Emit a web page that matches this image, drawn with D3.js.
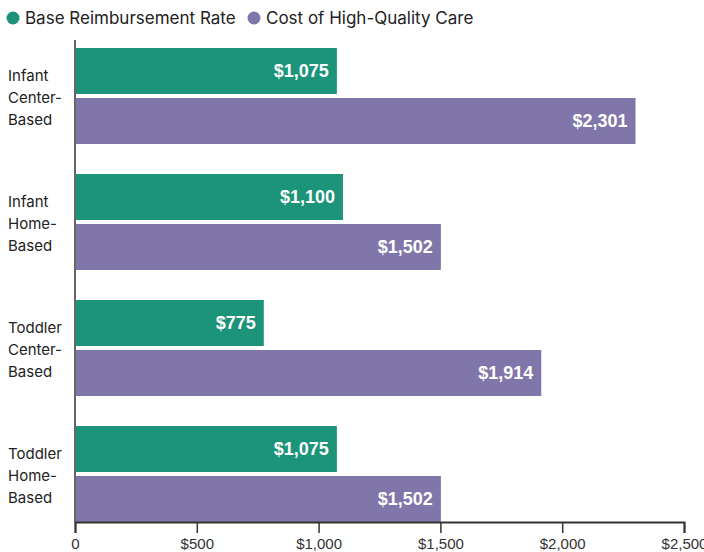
<!DOCTYPE html>
<html>
<head>
<meta charset="utf-8">
<script src="https://cdn.jsdelivr.net/npm/d3@7"></script>
<style>
  body { margin: 0; background: #fff; }
  svg { display: block; }
</style>
</head>
<body>
<div id="container"></div>
<script>
// chart data
const categories = [
  ["Infant", "Center-", "Based"],
  ["Infant", "Home-", "Based"],
  ["Toddler", "Center-", "Based"],
  ["Toddler", "Home-", "Based"]
];
const seriesNames = ["Base Reimbursement Rate", "Cost of High-Quality Care"];
const baseRate = [1075, 1100, 775, 1075];
const highQuality = [2301, 1502, 1914, 1502];
const tickValues = [0, 500, 1000, 1500, 2000, 2500];

const width = 704,
  height = 552;
const colors = ["#1b9479", "#8076a9"];

const svg = d3
  .select("#container")
  .append("svg")
  .attr("width", width)
  .attr("height", height);

const font = "Inter, 'Liberation Sans', sans-serif";

// scales
const x = d3.scaleLinear().domain([0, 2500]).range([75, 684]);

const y = d3
  .scaleBand()
  .domain(d3.range(categories.length))
  .range([33, 537])
  .paddingInner(30 / 126)
  .paddingOuter(15 / 126);

const ySub = d3
  .scaleBand()
  .domain([0, 1])
  .range([0, y.bandwidth()])
  .paddingInner(0.08);

const rows = categories.map((c, i) => ({
  label: c,
  values: [baseRate[i], highQuality[i]]
}));

// legend
const legend = svg.append("g").attr("id", "legend");
const legendX = [13, 254];
seriesNames.forEach((name, i) => {
  legend
    .append("circle")
    .attr("cx", legendX[i])
    .attr("cy", 18)
    .attr("r", 6.5)
    .attr("fill", colors[i]);
  legend
    .append("text")
    .attr("x", legendX[i] + 12)
    .attr("y", 18)
    .attr("dy", "0.35em")
    .attr("font-family", font)
    .attr("font-size", "17px")
    .attr("fill", "#222")
    .text(name);
});

// bars
const groups = svg
  .append("g")
  .attr("id", "bars")
  .selectAll("g")
  .data(rows)
  .enter()
  .append("g")
  .attr("transform", (d, i) => `translate(0,${y(i)})`);

groups
  .selectAll("rect")
  .data(d => d.values)
  .enter()
  .append("rect")
  .attr("x", x(0))
  .attr("y", (d, j) => ySub(j))
  .attr("width", d => x(d) - x(0))
  .attr("height", ySub.bandwidth())
  .attr("fill", (d, j) => colors[j]);

groups
  .selectAll("text.value")
  .data(d => d.values)
  .enter()
  .append("text")
  .attr("class", "value")
  .attr("x", d => x(d) - 8)
  .attr("y", (d, j) => ySub(j) + ySub.bandwidth() / 2)
  .attr("dy", "0.35em")
  .attr("text-anchor", "end")
  .attr("font-family", "'Liberation Sans', Arial, sans-serif")
  .attr("font-weight", "bold")
  .attr("font-size", "18px")
  .attr("fill", "#fff")
  .text(d => d3.format("$,")(d));

// category labels
groups
  .append("text")
  .attr("font-family", font)
  .attr("font-size", "15px")
  .attr("fill", "#222")
  .each(function(d) {
    const t = d3.select(this);
    d.label.forEach((line, k) => {
      t.append("tspan")
        .attr("x", 8)
        .attr("y", y.bandwidth() / 2 + 2 + (k - 1) * 22)
        .attr("dy", "0.35em")
        .text(line);
    });
  });

// vertical baseline
svg
  .append("line")
  .attr("x1", x(0))
  .attr("x2", x(0))
  .attr("y1", 40)
  .attr("y2", 522)
  .attr("stroke", "#666")
  .attr("stroke-width", 2);

// x axis
const axis = svg
  .append("g")
  .attr("id", "x-axis")
  .attr("transform", "translate(0,522)")
  .call(
    d3
      .axisBottom(x)
      .tickValues(tickValues)
      .tickSize(11)
      .tickPadding(5)
      .tickFormat(d => (d === 0 ? "0" : d3.format("$,")(d)))
  );

axis.select(".domain").attr("stroke", "#333").attr("stroke-width", 2);
axis.selectAll(".tick line").attr("stroke", "#333").attr("stroke-width", 1.5);
axis
  .selectAll(".tick text")
  .attr("font-family", "'Liberation Sans Narrow', 'Liberation Sans', sans-serif")
  .attr("font-size", "15px")
  .attr("fill", "#333");
</script>
</body>
</html>
